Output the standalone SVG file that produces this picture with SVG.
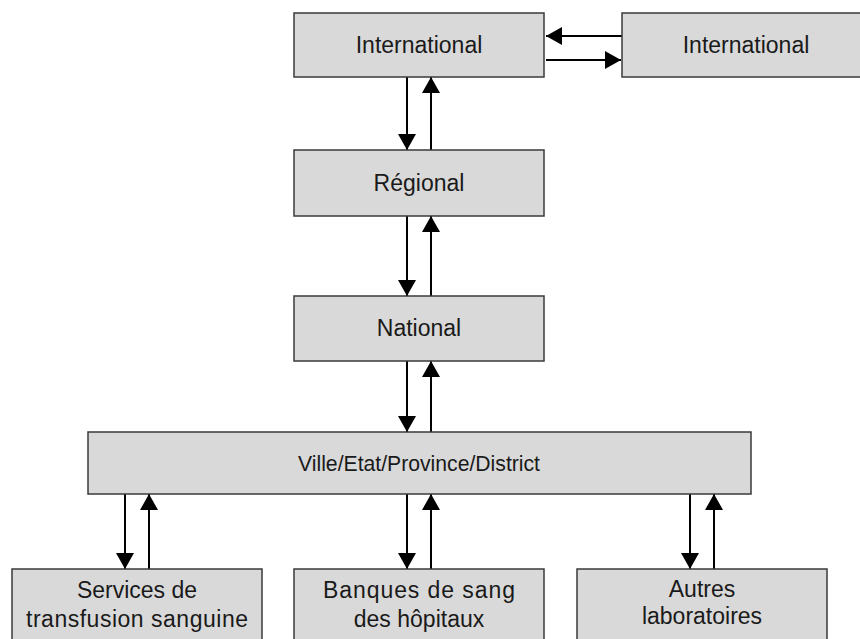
<svg xmlns="http://www.w3.org/2000/svg" width="860" height="639" viewBox="0 0 860 639">
<defs>
<style>
.box{fill:#d9d9d9;stroke:#3a3a3a;stroke-width:1.5}
.lbl{font-family:"Liberation Sans",Arial,sans-serif;font-size:23px;fill:#1a1a1a;text-anchor:middle}
.con{stroke:#000;stroke-width:2;fill:none;marker-end:url(#ah)}
</style>
<marker id="ah" markerUnits="userSpaceOnUse" markerWidth="18" markerHeight="20" refX="16" refY="9" orient="auto">
<path d="M0,0 L16,9 L0,18 Z" fill="#000"/>
</marker>
</defs>
<rect width="860" height="639" fill="#fff"/>
<g id="connectors">
<line class="con" x1="622" y1="36" x2="546" y2="36"/>
<line class="con" x1="546" y1="60" x2="621" y2="60"/>
<line class="con" x1="407" y1="77" x2="407" y2="150"/>
<line class="con" x1="431" y1="150" x2="431" y2="77"/>
<line class="con" x1="407" y1="216" x2="407" y2="296"/>
<line class="con" x1="431" y1="296" x2="431" y2="216"/>
<line class="con" x1="407" y1="361" x2="407" y2="432"/>
<line class="con" x1="431" y1="432" x2="431" y2="361"/>
<line class="con" x1="125" y1="494" x2="125" y2="569"/>
<line class="con" x1="149" y1="569" x2="149" y2="494"/>
<line class="con" x1="407" y1="494" x2="407" y2="569"/>
<line class="con" x1="431" y1="569" x2="431" y2="494"/>
<line class="con" x1="690" y1="494" x2="690" y2="569"/>
<line class="con" x1="714" y1="569" x2="714" y2="494"/>
</g>
<g id="international1"><rect class="box" x="294" y="13" width="250" height="64"/><text class="lbl" x="419" y="53">International</text></g>
<g id="international2"><rect class="box" x="622" y="13" width="250" height="64"/><text class="lbl" x="746" y="53">International</text></g>
<g id="regional"><rect class="box" x="294" y="150" width="250" height="66"/><text class="lbl" x="419" y="191">Régional</text></g>
<g id="national"><rect class="box" x="294" y="296" width="250" height="65"/><text class="lbl" x="419" y="336">National</text></g>
<g id="ville"><rect class="box" x="88" y="432" width="663" height="62"/><text class="lbl" x="419" y="471" style="font-size:22px" textLength="242" lengthAdjust="spacingAndGlyphs">Ville/Etat/Province/District</text></g>
<g id="services"><rect class="box" x="12" y="569" width="250" height="80"/><text class="lbl" x="137" y="598">Services de</text><text class="lbl" x="137" y="627" textLength="222" lengthAdjust="spacing">transfusion sanguine</text></g>
<g id="banques"><rect class="box" x="294" y="569" width="250" height="80"/><text class="lbl" x="419" y="598" textLength="192" lengthAdjust="spacing">Banques de sang</text><text class="lbl" x="419" y="627">des hôpitaux</text></g>
<g id="autres"><rect class="box" x="577" y="569" width="250" height="80"/><text class="lbl" x="702" y="597">Autres</text><text class="lbl" x="702" y="624">laboratoires</text></g>
</svg>
